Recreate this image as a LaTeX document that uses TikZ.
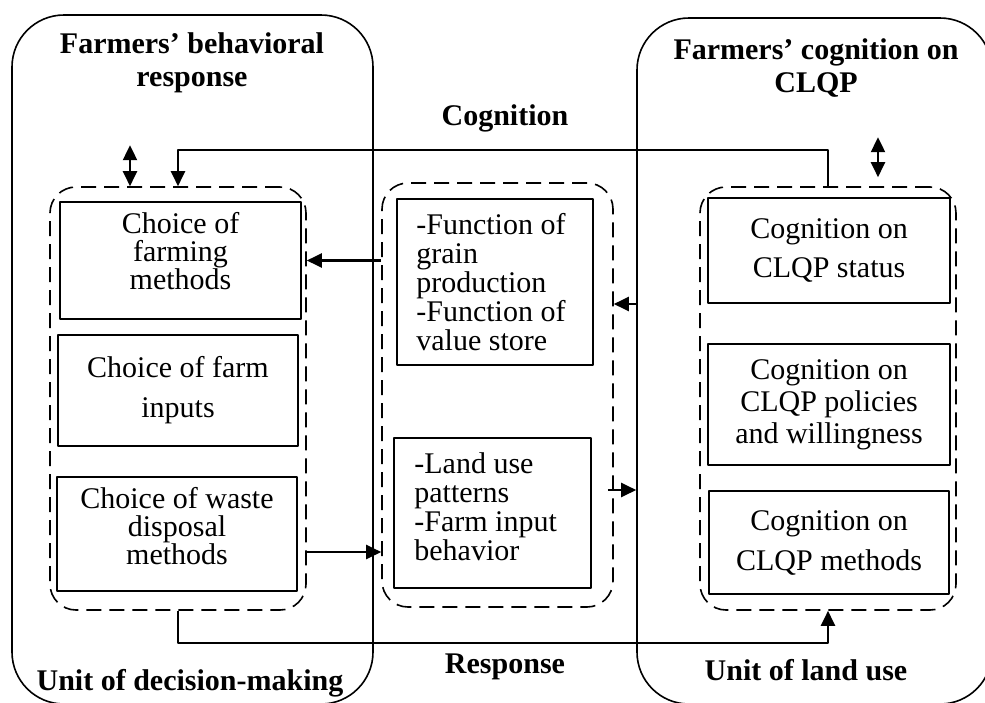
\documentclass[tikz,border=0pt]{standalone}
\usepackage{fontspec}
\setmainfont{Liberation Serif}
\usetikzlibrary{arrows.meta}
\tikzset{
  fig/.style={line join=round,>={Triangle[length=7.5pt,width=7pt]}},
  unitbox/.style={draw,line width=0.8pt,rounded corners=26pt,inner sep=0pt},
  groupbox/.style={draw,line width=0.8pt,dash pattern=on 7.5pt off 4pt,rounded corners=13pt,inner sep=0pt},
  itembox/.style={draw,line width=1pt,inner sep=0pt},
  itemtext/.style={inner sep=0pt,align=center},
  heading/.style={font=\fontsize{15}{16.5}\selectfont\bfseries,align=center},
  flow/.style={->,line width=1.1pt},
  twoway/.style={<->,line width=1.1pt},
}

\begin{document}
\begin{tikzpicture}[fig,x=0.5pt,y=-0.5pt]
  \useasboundingbox(0,0)rectangle(985,702);
  \clip(0,0)rectangle(985,702);
  % the two units
  \node[unitbox,minimum width=180.5pt,minimum height=344.5pt](decunit)at(192.5,359.5){};
  \node[unitbox,minimum width=177.5pt,minimum height=343pt](landunit)at(814.5,361){};
  \node[heading](dectitle)at(192,63){Farmers’ behavioral\\response};
  \node[heading](cogtitle)at(816,68){Farmers’ cognition on\\CLQP};
  \node[heading](decname)at(190,683){Unit of decision-making};
  \node[heading](landname)at(806,670){Unit of land use};
  \node[heading](cogword)at(505,118){Cognition};
  \node[heading](respword)at(505,667){Response};
  % dashed groups
  \node[groupbox,minimum width=128pt,minimum height=211.5pt](choicegrp)at(178,398.5){};
  \node[groupbox,minimum width=115.5pt,minimum height=212pt](midgrp)at(497.5,395){};
  \node[groupbox,minimum width=128pt,minimum height=211.5pt](cogrp)at(828,398.5){};
  % left column -- behavioral choices
  \node[itembox,minimum width=120.5pt,minimum height=58.5pt](farming)at(180.5,260.5){};
  \node[itemtext,font=\fontsize{15}{14}\selectfont](farming-txt)at([yshift=4.5pt]farming.center){Choice of\\farming\\methods};
  \node[itembox,minimum width=120pt,minimum height=55.5pt](inputs)at(178,390.5){};
  \node[itemtext,font=\fontsize{15}{20}\selectfont](inputs-txt)at(inputs.center){Choice of farm\\inputs};
  \node[itembox,minimum width=120pt,minimum height=57pt](waste)at(177,534){};
  \node[itemtext,font=\fontsize{15}{14}\selectfont](waste-txt)at([yshift=4pt]waste.center){Choice of waste\\disposal\\methods};
  % middle column -- functions and behaviors
  \node[itembox,minimum width=98pt,minimum height=83pt](funcs)at(495,282){};
  \node[itemtext,align=left,anchor=west,font=\fontsize{15}{14.5}\selectfont](funcs-txt)at([xshift=10pt]funcs.west){-Function of\\grain\\production\\-Function of\\value store};
  \node[itembox,minimum width=98.5pt,minimum height=75pt](behav)at(492.5,513){};
  \node[itemtext,align=left,anchor=west,font=\fontsize{15}{14.5}\selectfont](behav-txt)at([xshift=10.5pt,yshift=3pt]behav.west){-Land use\\patterns\\-Farm input\\behavior};
  % right column -- cognition on CLQP
  \node[itembox,minimum width=121pt,minimum height=52.5pt](status)at(829,250.5){};
  \node[itemtext,font=\fontsize{15}{19.5}\selectfont](status-txt)at(status.center){Cognition on\\CLQP status};
  \node[itembox,minimum width=121pt,minimum height=60.5pt](policies)at(829,404.5){};
  \node[itemtext,font=\fontsize{15}{16}\selectfont](policies-txt)at(policies.center){Cognition on\\CLQP policies\\and willingness};
  \node[itembox,minimum width=120pt,minimum height=51.5pt](methods)at(829,542.5){};
  \node[itemtext,font=\fontsize{15}{20}\selectfont](methods-txt)at(methods.center){Cognition on\\CLQP methods};
  % connectors
  \coordinate(respout)at(306,552);
  \draw[flow](farming-|midgrp.west)--(farming-|choicegrp.east);
  \draw[flow](status.south-|landunit.west)--(status.south-|midgrp.east);
  \draw[flow]([xshift=-3pt]methods.north-|midgrp.east)--(methods.north-|landunit.west);
  \draw[flow](respout)--(respout-|midgrp.west);
  \draw[flow](cogrp.north)--++(0,-36)-|(choicegrp.north);
  \draw[flow](choicegrp.south)--++(0,32)-|(cogrp.south);
  \draw[twoway]([xshift=-24pt]choicegrp.north)--++(0,-41);
  \draw[twoway]([xshift=25pt,yshift=4.5pt]cogrp.north)--++(0,-40);
\end{tikzpicture}
\end{document}
